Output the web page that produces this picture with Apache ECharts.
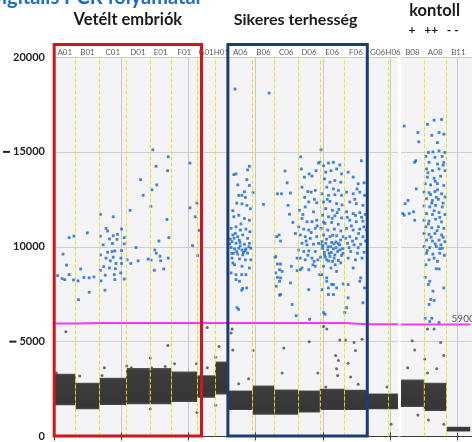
<!DOCTYPE html>
<html>
<head>
<meta charset="utf-8">
<script src="https://cdn.jsdelivr.net/npm/echarts/dist/echarts.min.js"></script>
<style>
  html, body { margin: 0; padding: 0; background: #ffffff; }
  #chart { width: 472px; height: 442px; }
</style>
</head>
<body>
<div id="chart"></div>
<script>
// ---- Wells (event order) and droplet counts per well ----
const wellNames = ['A01','B01','C01','D01','E01','F01','G01','H01','A06','B06','C06','D06','E06','F06','G06','H06','B08','A08','B11'];
const wellDroplets = [12950,14110,15870,14130,12920,15300,10610,7640,14700,12930,14140,12950,14690,13540,12360,5900,13600,13520,14100];
const plateEndWell = 'H06';          // second plate starts after this well
const plateGapEvents = 1800;

// ---- Negative droplet cloud (amplitude range) per well ----
const bandLow  = [1650,1440,1660,1700,1700,1820,2040,2220,1390,1150,1150,1260,1390,1390,1440,1440,1560,1350,260];
const bandHigh = [3310,2830,3090,3610,3610,3430,3230,3950,2430,2690,2480,2430,2520,2460,2270,2270,3000,2830,520];

// ---- Threshold per well ----
const thresholds = [5950,5980,5980,5980,5980,5980,5980,5980,5980,5980,5980,5980,5980,5920,5920,5920,5900,5900,5900];
const thresholdLabel = 5900;

// ---- Amplitude axis ----
const yTicks = [0, 5000, 10000, 15000, 20000];

// ---- Positive droplets: [position within well (%), amplitude] ----
const posA01 = [[70,10480],[92,10560],[42,9610],[58,9030],[70,8530],[38,8320],[50,8270],[17,8480],[90,8250]];
const posB01 = [[12,7210],[21,8830],[49,10730],[35,8380],[57,8360],[77,8410],[57,7600],[10,8200]];
const posC01 = [[4,11710],[52,11580],[25,10970],[31,10830],[83,10930],[4,10560],[52,10580],[68,10650],[93,10480],[38,10410],[66,10390],[14,10100],[49,10170],[93,10150],[31,9710],[48,9750],[58,9780],[83,9800],[4,9570],[25,9400],[52,9450],[81,9400],[41,9260],[62,9120],[83,9120],[16,8950],[38,8880],[60,8840],[4,8760],[80,8620],[22,8500],[56,8530],[93,8300],[6,8200],[21,7710],[58,8270]];
const posD01 = [[17,11920],[61,13540],[72,12710],[42,9960],[51,9260],[93,9350],[20,9120],[5,9310]];
const posE01 = [[14,15110],[29,14240],[32,13260],[10,13000],[5,12130],[85,14740],[82,14010],[79,11440],[88,10480],[42,10300],[23,9830],[30,9660],[47,9500],[6,9300],[85,9400],[21,8760],[64,8830],[50,9260]];
const posF01 = [[72,14410],[72,12050],[92,11580],[82,10060],[99,12300]];
const posG01 = [[11,10860],[3,9540]];
const posH01 = [];
const posA06 = [[29,18310],[87,14240],[80,14050],[24,13800],[33,13840],[40,13260],[77,13540],[87,13230],[44,12710],[57,12710],[71,12600],[57,12260],[77,12180],[24,11580],[44,11660],[67,11490],[87,11400],[13,10970],[33,11050],[51,10880],[73,10930],[89,10790],[20,10620],[40,10530],[60,10620],[80,10440],[17,10270],[33,10180],[49,10230],[67,10130],[87,10180],[13,9960],[27,9890],[44,9920],[57,9830],[73,9890],[93,9920],[23,9660],[40,9610],[60,9570],[80,9660],[17,9400],[47,9360],[71,9310],[93,9310],[27,9050],[57,8970],[87,8880],[33,8530],[73,8530],[33,8270],[60,7800],[76,7830],[13,8620],[56,8530],[47,8180],[56,7710],[37,6790],[43,6700],[20,9140],[10,10400],[50,10050],[63,9700],[30,10700],[85,10000],[53,11200],[20,11900],[67,12900],[36,12300],[91,12000],[8,10150],[25,10450],[46,10350],[70,9800],[35,9750],[15,9650]];
const posB06 = [[76,18100],[50,12230],[2,12850]];
const posC06 = [[45,13990],[13,12790],[30,12790],[54,13370],[68,12830],[58,12180],[64,11710],[20,10620],[26,10300],[10,10530],[78,11280],[89,10700],[3,9450],[13,9090],[22,8790],[5,8620],[26,8360],[8,7920],[72,8970],[96,9400],[22,7450],[5,9490],[26,9090],[33,8700],[13,8390],[22,8180],[68,8090],[26,7480],[75,6960],[92,6360],[96,8740]];
const posD06 = [[12,14740],[15,14100],[29,13670],[51,13840],[64,13720],[83,14010],[94,14410],[18,13140],[45,12910],[60,12880],[79,12970],[49,12360],[86,12320],[33,12100],[6,11920],[71,11840],[18,11490],[41,11320],[64,11320],[86,11400],[3,11050],[26,10930],[49,10880],[79,10970],[10,10620],[33,10530],[56,10440],[86,10530],[18,10180],[41,10100],[71,10130],[94,10180],[3,9830],[26,9750],[49,9780],[79,9750],[10,9400],[33,9310],[64,9400],[91,9310],[18,8880],[49,8790],[79,8970],[49,7740],[10,8790],[53,6180],[99,8530],[74,9230],[37,10300],[60,10750],[22,11700],[88,11100],[45,9550],[68,9050],[30,12600],[75,12500]];
const posE06 = [[5,15110],[1,14450],[15,14270],[35,14410],[55,14450],[81,14310],[24,13930],[45,14010],[68,14100],[88,13840],[19,13580],[41,13400],[61,13490],[85,13400],[28,13140],[55,13050],[75,12970],[8,12790],[35,12710],[61,12740],[88,12710],[15,12360],[41,12390],[68,12270],[24,12010],[51,11920],[77,11970],[11,11660],[35,11580],[61,11630],[88,11520],[21,11230],[48,11280],[75,11180],[5,10970],[32,10880],[59,10930],[85,10830],[15,10620],[41,10530],[68,10580],[95,10530],[8,10270],[24,10180],[48,10230],[75,10170],[11,9920],[32,9830],[55,9890],[81,9830],[19,9570],[41,9490],[61,9570],[88,9540],[28,9310],[51,9230],[75,9280],[15,8970],[45,8880],[8,8530],[28,8360],[55,8010],[35,7830],[68,7830],[8,7740],[28,8180],[48,8010],[68,8700],[15,6530],[21,6440],[55,7480],[35,7480],[95,8040],[12,10050],[18,9700],[27,10400],[38,9650],[44,10000],[52,10600],[58,9400],[65,10250],[72,9750],[80,10100],[92,9900],[3,9450],[36,9250],[62,9050],[85,9150],[50,11500],[70,11800],[15,11300],[90,12200],[30,12500],[4,10150],[22,9450],[46,9700],[66,9950],[84,10350],[33,10000],[57,10150],[94,9650]];
const posF06 = [[74,14530],[16,13930],[38,13670],[60,13320],[86,13370],[9,12880],[38,12790],[67,12880],[88,12710],[23,12360],[52,12270],[81,12180],[9,11840],[38,11750],[67,11800],[91,11700],[23,11400],[52,11320],[81,11350],[9,10970],[38,10880],[67,10930],[96,10880],[23,10530],[52,10440],[81,10530],[13,10180],[42,10100],[71,10130],[27,9750],[57,9660],[86,9710],[16,9400],[48,9310],[77,9400],[38,8880],[71,8360],[88,7830],[16,8010],[67,8180],[16,7310],[9,6790],[1,6530],[81,7050],[30,11100],[62,10700],[45,12500],[20,9950],[92,10300],[75,11550],[5,10450],[55,13050],[35,10300],[60,9950],[85,11050],[12,11550],[48,11650]];
const posG06 = [];
const posH06 = [];
const posB08 = [[14,16360],[74,16020],[78,15530],[64,14530],[60,14450],[67,13050],[31,12440],[18,12270],[8,11750],[14,11660],[36,11750],[55,11840],[60,11400]];
const posA08 = [[16,16450],[45,16670],[78,16710],[35,15870],[67,16020],[88,15930],[60,15490],[20,14970],[40,15000],[67,15050],[93,14970],[9,14760],[49,14710],[81,14760],[23,14450],[60,14360],[88,14450],[12,14100],[38,14010],[67,14100],[93,14010],[16,13670],[45,13610],[74,13720],[6,13320],[30,13260],[60,13320],[88,13230],[1,12880],[23,12850],[49,12910],[78,12790],[93,12620],[12,12530],[38,12440],[64,12500],[1,12150],[26,12100],[52,12180],[81,12100],[12,11750],[38,11700],[67,11800],[93,11700],[1,11400],[23,11350],[52,11450],[78,11310],[9,11050],[35,11000],[64,11050],[88,10970],[1,10700],[23,10650],[49,10700],[78,10620],[12,10350],[38,10300],[67,10350],[93,10270],[1,10010],[26,9960],[55,10010],[81,9920],[12,9660],[40,9610],[70,9660],[23,9310],[60,9230],[9,9050],[55,8840],[67,8830],[6,8390],[26,8180],[20,8010],[40,7660],[88,7830],[30,7220],[45,7170],[23,6960],[6,6230],[35,6230],[26,6060],[67,6010],[30,12750],[55,12600],[85,12300],[45,11900],[70,11550],[20,11200],[58,10850],[85,10500],[32,10500],[50,10150],[75,10100],[15,9800],[90,9550],[45,9400],[70,9900],[35,12300],[60,13000],[18,13900],[85,14300],[50,13450]];
const posB11 = [];
const positiveSets = [posA01,posB01,posC01,posD01,posE01,posF01,posG01,posH01,posA06,posB06,posC06,posD06,posE06,posF06,posG06,posH06,posB08,posA08,posB11];

// ---- Rain droplets below threshold: [well, position (%), amplitude] ----
const rain = [
  ['A01',55,5520],['A01',12,3340],['B01',17,3190],['C01',19,3620],['C01',10,3220],
  ['D01',3,3710],['D01',22,3620],['E01',2,4140],['E01',83,4790],['E01',8,3620],['E01',71,3690],['E01',2,1450],
  ['F01',12,3830],['F01',97,3830],['F01',99,1270],['G01',56,5740],['G01',56,3620],
  ['H01',31,4740],['H01',4,4180],['H01',4,1650],
  ['A06',17,5660],['A06',13,5450],['A06',20,4560],['A06',44,2780],['A06',84,3040],['B06',2,4530],
  ['C06',40,4660],['C06',33,3340],['D06',51,5000],['D06',91,3340],
  ['E06',15,5800],['E06',28,5660],['E06',24,2610],['E06',64,4270],['E06',75,4000],['E06',68,3570],['E06',72,3220],['E06',81,5080],
  ['F06',4,5080],['F06',16,3860],['F06',27,3130],['F06',42,4960],['F06',48,4530],['F06',60,2750],['F06',77,5130],
  ['G06',95,2610],['H06',31,640],
  ['B08',49,5050],['B08',60,4560],['B08',29,3620],['B08',74,1130],
  ['A08',4,4090],['A08',16,5660],['A08',45,5660],['A08',74,4960],['A08',88,4270],['A08',57,3570],['A08',16,3340],['A08',20,870],['A08',88,640]
];

// ---- Headings ----
const pageTitle = 'Digitális PCR folyamatai';
const groupVetelt = { title: 'Vetélt embriók', first: 'A01', last: 'F01' };
const groupSikeres = { title: 'Sikeres terhesség', first: 'A06', last: 'F06' };
const groupKontroll = { title: 'kontoll', marks: '+   ++   - -', first: 'B08', last: 'B11' };

// ---- Event positions of wells ----
const wellStart = [], wellEnd = [];
let acc = 0;
wellNames.forEach((w, i) => {
  wellStart.push(acc);
  acc += wellDroplets[i];
  wellEnd.push(acc);
  if (w === plateEndWell) acc += plateGapEvents;
});
const X_MAX = 248800;
const idx = w => wellNames.indexOf(w);
const xOf = (i, f) => wellStart[i] + f / 100 * wellDroplets[i];

const bandData = wellNames.map((w, i) => [wellStart[i], wellEnd[i], bandLow[i], bandHigh[i]]);

const posData = [];
positiveSets.forEach((set, i) => set.forEach(([f, a]) => posData.push([xOf(i, f), a])));

const rainData = rain.map(([w, f, a]) => [xOf(idx(w), f), a]);

const thrData = [];
wellNames.forEach((w, i) => {
  thrData.push([wellStart[i], thresholds[i]], [wellEnd[i], thresholds[i]]);
  if (w === plateEndWell) thrData.push([wellEnd[i] + plateGapEvents / 2, '-']);
});

const dividerData = [];
wellNames.forEach((w, i) => {
  if (i < wellNames.length - 1 && w !== plateEndWell) dividerData.push({ xAxis: wellEnd[i] });
});
const pe = idx(plateEndWell);

const labelData = wellNames.map((w, i) => ({ value: [(wellStart[i] + wellEnd[i]) / 2, yTicks[yTicks.length - 1]], name: w }));
const lastWell = wellNames.length - 1;
const thrLabelData = [{ value: [xOf(lastWell, 21), thresholdLabel], name: String(thresholdLabel) }];

const FONT = 'Lato, "Open Sans", sans-serif';
const chart = echarts.init(document.getElementById('chart'), null, { renderer: 'canvas' });

const bandGradient = new echarts.graphic.LinearGradient(0, 0, 0, 1, [
  { offset: 0, color: '#5a5a5a' },
  { offset: 0.06, color: '#3c3c3c' },
  { offset: 0.92, color: '#363636' },
  { offset: 1, color: '#4a4a4a' }
]);

chart.setOption({
  animation: false,
  backgroundColor: '#ffffff',
  grid: { left: 49, right: 0, top: 57, bottom: 1, show: true, backgroundColor: '#f4f4f6', borderWidth: 0 },
  xAxis: [
    {
      type: 'value', min: 0, max: X_MAX, interval: 40000, position: 'top',
      axisLine: { show: true, lineStyle: { color: '#3a3a3a', width: 1 } },
      axisTick: { show: true, inside: true, length: 4, lineStyle: { color: '#3a3a3a' } },
      axisLabel: { show: false },
      splitLine: { show: true, lineStyle: { color: '#cacaca', width: 1 } }
    },
    {
      type: 'value', min: 0, max: X_MAX, interval: 40000, position: 'bottom',
      axisLine: { show: false },
      axisTick: { show: true, inside: true, length: 4, lineStyle: { color: '#3a3a3a' } },
      axisLabel: { show: false },
      splitLine: { show: false }
    }
  ],
  yAxis: {
    type: 'value', min: yTicks[0], max: yTicks[yTicks.length - 1], interval: 5000,
    axisLine: { show: false }, axisTick: { show: false },
    splitLine: { show: true, lineStyle: { color: '#cfcfcf', width: 1 } },
    axisLabel: {
      margin: 9, color: '#1e1e1e', fontSize: 11, fontWeight: 'bold', fontFamily: FONT,
      formatter: v => (v === 15000 || v === 5000) ? '{d| }{n|' + v + '}' : String(v),
      rich: {
        d: { width: 7, height: 2, lineHeight: 2, fontSize: 2, backgroundColor: '#222', verticalAlign: 'middle' },
        n: { padding: [0, 0, 0, 3], fontSize: 11, fontWeight: 'bold', color: '#1e1e1e', fontFamily: FONT, verticalAlign: 'middle' }
      }
    }
  },
  series: [
    {
      name: 'negatív', type: 'custom', z: 1, silent: true,
      encode: { x: [0, 1], y: [2, 3] },
      data: bandData,
      renderItem: (params, api) => {
        const p0 = api.coord([api.value(0), api.value(3)]);
        const p1 = api.coord([api.value(1), api.value(2)]);
        return {
          type: 'rect',
          shape: { x: p0[0], y: p0[1], width: p1[0] - p0[0], height: p1[1] - p0[1] },
          style: { fill: bandGradient }
        };
      }
    },
    {
      name: 'well határok', type: 'line', z: 2, data: [], silent: true,
      markLine: {
        silent: true, symbol: ['none', 'none'], label: { show: false },
        lineStyle: { color: '#e6e600', type: [4, 2], width: 1, opacity: 0.9 },
        data: dividerData
      },
      markArea: {
        silent: true, itemStyle: { color: '#ffffff' },
        data: [[{ xAxis: wellEnd[pe] }, { xAxis: wellStart[pe + 1] }]]
      }
    },
    {
      name: 'rain', type: 'scatter', z: 3, silent: true,
      symbol: 'circle', symbolSize: 3, itemStyle: { color: '#4a4a4a' },
      data: rainData
    },
    {
      name: 'pozitív', type: 'scatter', z: 4, silent: true,
      symbol: 'rect', symbolSize: 2.8, itemStyle: { color: '#1766d8' },
      data: posData
    },
    {
      name: 'küszöb', type: 'line', z: 5, silent: true, symbol: 'none', connectNulls: false,
      lineStyle: { color: '#f23cf2', width: 2 },
      data: thrData
    },
    {
      name: 'well nevek', type: 'scatter', z: 6, silent: true, symbolSize: 0,
      data: labelData,
      label: { show: true, position: 'top', distance: 1, formatter: p => p.name, fontSize: 8, color: '#333', fontFamily: FONT }
    },
    {
      name: 'küszöb címke', type: 'scatter', z: 6, silent: true, symbolSize: 0,
      data: thrLabelData,
      label: { show: true, position: 'right', distance: 0, offset: [0, -6], formatter: p => p.name, fontSize: 10, color: '#333', fontFamily: FONT }
    }
  ]
});

// ---- Group frames and headings, placed from the axis scale ----
const px = v => chart.convertToPixel({ xAxisIndex: 0 }, v);
const yTop = chart.convertToPixel({ yAxisIndex: 0 }, yTicks[yTicks.length - 1]);
const yBottom = chart.convertToPixel({ yAxisIndex: 0 }, yTicks[0]);
const frameTop = yTop - 12.5;
const frameBottom = yBottom - 0.5;

function frame(x0, x1, color) {
  return {
    type: 'rect', z: 100, silent: true,
    shape: { x: x0, y: frameTop, width: x1 - x0, height: frameBottom - frameTop },
    style: { fill: null, stroke: color, lineWidth: 3 }
  };
}
const redX0 = px(wellStart[idx(groupVetelt.first)]) + 0.3;
const redX1 = px(wellEnd[idx(groupVetelt.last)]) + 4.3;
const blueX0 = px(wellStart[idx(groupSikeres.first)]);
const blueX1 = px(wellEnd[idx(groupSikeres.last)]);
const ctrlX0 = px(wellStart[idx(groupKontroll.first)]);
const ctrlX1 = px(wellEnd[idx(groupKontroll.last)]);

function heading(text, x, y, size) {
  return {
    type: 'text', z: 100, silent: true, x: x, y: y,
    style: { text: text, fill: '#1a1a1a', font: 'bold ' + size + 'px ' + FONT, textAlign: 'center', textVerticalAlign: 'middle' }
  };
}

chart.setOption({
  graphic: [
    {
      type: 'text', z: 100, silent: true, x: -13, y: 8,
      style: { text: pageTitle, fill: '#1f6dbf', font: 'bold 20px ' + FONT, textAlign: 'left', textVerticalAlign: 'bottom' }
    },
    heading(groupVetelt.title, (redX0 + redX1) / 2, 20, 16.5),
    heading(groupSikeres.title, (blueX0 + blueX1) / 2 - 2, 20, 16),
    heading(groupKontroll.title, (ctrlX0 + ctrlX1) / 2 - 1, 11, 16.5),
    heading(groupKontroll.marks, (ctrlX0 + ctrlX1) / 2 - 2, 30, 12),
    frame(redX0, redX1, '#d0161c'),
    frame(blueX0, blueX1, '#1c3c78')
  ]
});
</script>
</body>
</html>
